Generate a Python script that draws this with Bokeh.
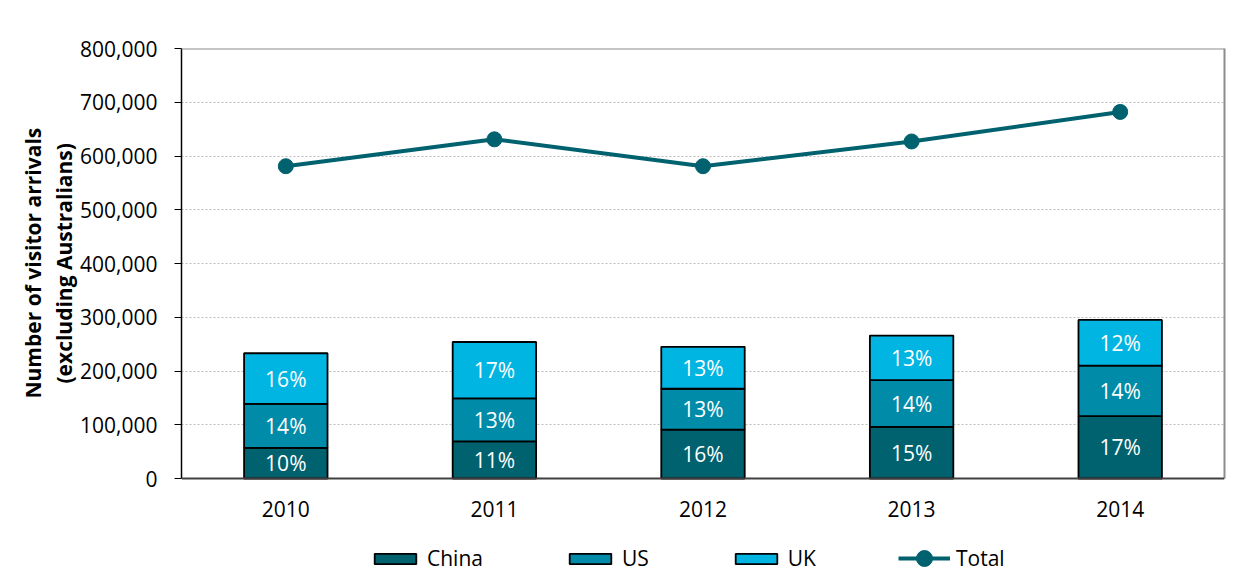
from bokeh.plotting import figure
from bokeh.models import (ColumnDataSource, FactorRange, FixedTicker, NumeralTickFormatter,
                          Legend, LegendItem, Title, Range1d, Span, LinearAxis)
from bokeh.core.properties import value
from bokeh.embed import file_html
from bokeh.resources import INLINE

# ---- data ----
categories = ["2010", "2011", "2012", "2013", "2014"]
china = [57000, 69000, 91000, 96000, 116000]
us = [82000, 80000, 76000, 87000, 94000]
uk = [94000, 105000, 78000, 83000, 85000]
total = [581000, 631000, 581000, 627000, 682000]
china_pct = ["10%", "11%", "16%", "15%", "17%"]
us_pct = ["14%", "13%", "13%", "14%", "14%"]
uk_pct = ["16%", "17%", "13%", "13%", "12%"]
y_ticks = [0, 100000, 200000, 300000, 400000, 500000, 600000, 700000, 800000]

FONT = "Open Sans"
C_CHINA = "#00616F"
C_US = "#008BA8"
C_UK = "#00B5E2"
C_LINE = "#00616F"

# layout: plotting area 430px tall for 0..800,000, with 102px extra below for labels/legend
PLOT_H, EXTRA = 430, 102
y_max = y_ticks[-1]
y_min = -y_max * EXTRA / PLOT_H

src = ColumnDataSource(dict(cat=categories, China=china, US=us, UK=uk))

p = figure(x_range=FactorRange(*categories), y_range=Range1d(y_min, y_max),
           frame_width=1043, frame_height=PLOT_H + EXTRA,
           min_border_left=181, min_border_right=24, min_border_top=48, min_border_bottom=4,
           output_backend="svg", toolbar_location=None, background_fill_color="white",
           border_fill_color="white")

bars = p.vbar_stack(["China", "US", "UK"], x="cat", width=0.4, source=src,
                    fill_color=[C_CHINA, C_US, C_UK], line_color="black", line_width=1.8)

# percent labels at segment midpoints
mid_china = [c / 2 for c in china]
mid_us = [c + u / 2 for c, u in zip(china, us)]
mid_uk = [c + u + k / 2 for c, u, k in zip(china, us, uk)]
lab_src = ColumnDataSource(dict(
    x=categories * 3,
    y=mid_china + mid_us + mid_uk,
    t=china_pct + us_pct + uk_pct))
p.text(x="x", y="y", text="t", source=lab_src, text_color="white",
       text_font=value(FONT), text_font_size="21px", text_align="center",
       text_baseline="middle")

line = p.line(categories, total, line_color=C_LINE, line_width=4)
dots = p.scatter(categories, total, size=15, fill_color=C_LINE, line_color=C_LINE)

# category labels below the zero line
p.text(x=categories, y=[0] * len(categories), text=categories, y_offset=30,
       text_color="black", text_font=value(FONT), text_font_size="21px",
       text_align="center", text_baseline="middle")

# y axis (bounded to the data area)
p.yaxis.ticker = FixedTicker(ticks=y_ticks)
p.yaxis.bounds = (0, y_max)
p.yaxis.formatter = NumeralTickFormatter(format="0,0")
p.yaxis.major_label_text_font = FONT
p.yaxis.major_label_text_font_size = "21px"
p.yaxis.major_label_text_color = "black"
p.yaxis.major_tick_out = 7
p.yaxis.major_tick_in = 0
p.yaxis.minor_tick_line_color = None
p.yaxis.axis_line_color = "black"
p.yaxis.axis_line_width = 1.5
p.yaxis.major_tick_line_color = "black"
p.yaxis.major_label_standoff = 17

p.xaxis.visible = False

# right border of the plot area
right_axis = LinearAxis(bounds=(0, y_max), ticker=FixedTicker(ticks=[]),
                        axis_line_color="#8c8c8c", axis_line_width=2,
                        major_tick_line_color=None, minor_tick_line_color=None,
                        major_label_text_font_size="0px")
p.add_layout(right_axis, "right")

p.xgrid.grid_line_color = None
p.ygrid.grid_line_color = "#bdbdbd"
p.ygrid.grid_line_dash = "2 2"
p.ygrid.grid_line_width = 1
p.outline_line_color = None

p.add_layout(Span(location=y_max, dimension="width", line_color="#8c8c8c", line_width=2))
p.add_layout(Span(location=0, dimension="width", line_color="#404040", line_width=2))

# y axis title (two lines) in the left panel, centred on the data area
p.add_layout(Title(text="(excluding Australians)", align="left", text_font=FONT,
                   text_font_size="21px", text_font_style="bold", text_color="black",
                   standoff=0, offset=197), "left")
p.add_layout(Title(text="Number of visitor arrivals", align="left", text_font=FONT,
                   text_font_size="21px", text_font_style="bold", text_color="black",
                   standoff=2, offset=182), "left")

# legends in the lower strip of the frame
legend_bars = Legend(items=[LegendItem(label="China", renderers=[bars[0]]),
                            LegendItem(label="US", renderers=[bars[1]]),
                            LegendItem(label="UK", renderers=[bars[2]])],
                     location=(188, 8), orientation="horizontal", padding=0, margin=0,
                     spacing=81, glyph_width=52, glyph_height=13, label_standoff=6,
                     label_text_font=FONT, label_text_font_size="21px",
                     label_text_color="black", border_line_alpha=0,
                     background_fill_alpha=0)
p.add_layout(legend_bars)
legend_total = Legend(items=[LegendItem(label="Total", renderers=[line, dots])],
                      location=(717, 2), orientation="horizontal", padding=0, margin=0,
                      glyph_width=52, glyph_height=40, label_standoff=6,
                      label_text_font=FONT, label_text_font_size="21px",
                      label_text_color="black", border_line_alpha=0,
                      background_fill_alpha=0)
p.add_layout(legend_total)

open("out.html", "w").write(file_html(p, INLINE))
